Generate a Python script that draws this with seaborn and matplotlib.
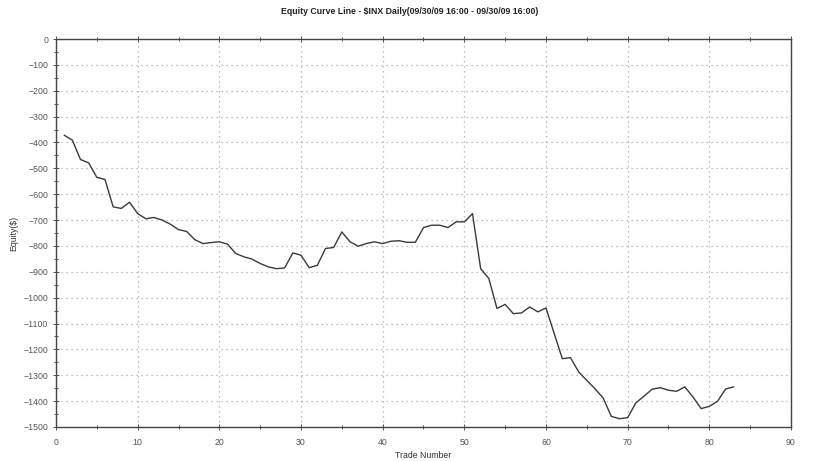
import pandas as pd
import numpy as np
import seaborn as sns
import matplotlib.pyplot as plt
from matplotlib.ticker import MultipleLocator

# Equity per trade
trade_number = list(range(1, 84))
equity = [
    -372, -391, -466, -479, -535, -543, -649, -655, -631, -675,
    -695, -690, -700, -716, -737, -744, -776, -791, -787, -784,
    -793, -829, -842, -851, -868, -881, -888, -885, -827, -836,
    -884, -875, -810, -806, -746, -784, -801, -791, -784, -791,
    -782, -780, -786, -786, -729, -720, -720, -729, -707, -707,
    -675, -888, -926, -1042, -1026, -1062, -1059, -1036, -1055, -1040,
    -1138, -1236, -1232, -1287, -1320, -1352, -1388, -1459, -1468, -1464,
    -1407, -1381, -1354, -1348, -1358, -1362, -1345, -1384, -1429, -1420,
    -1401, -1353, -1345,
]
title = "Equity Curve Line - $INX Daily(09/30/09 16:00 - 09/30/09 16:00)"

df = pd.DataFrame({"trade": trade_number, "equity": equity})

sns.set_style("white")
plt.rcParams["font.family"] = ["Liberation Sans Narrow", "Liberation Sans", "DejaVu Sans"]

fig = plt.figure(figsize=(8.2, 4.61), dpi=100)
ax = fig.add_axes([0.0683, 0.0738, 0.8963, 0.8416])

# curva equity
sns.lineplot(data=df, x="trade", y="equity", color="#3a3a3a", linewidth=1.0, ax=ax)

ax.set_xlim(0, 90)
ax.set_ylim(-1500, 0)
ax.xaxis.set_major_locator(MultipleLocator(10))
ax.xaxis.set_minor_locator(MultipleLocator(5))
ax.yaxis.set_major_locator(MultipleLocator(100))
ax.yaxis.set_minor_locator(MultipleLocator(50))

ax.grid(True, which="major", linestyle=(0, (1, 3)), color="#aaaaaa", linewidth=0.9)
ax.tick_params(which="both", direction="inout", length=4, width=0.7, color="#555555",
               labelsize=6.3, labelcolor="#555555", top=True, bottom=True, left=True, right=False)
ax.tick_params(which="minor", length=3)
ax.tick_params(axis="x", pad=6)

for side in ["left", "bottom", "right", "top"]:
    ax.spines[side].set_color("#444444")
    ax.spines[side].set_linewidth(1.0)

ax.set_xlabel("Trade Number", fontsize=6.3, color="#333333", labelpad=3)
ax.set_ylabel("Equity($)", fontsize=6.3, color="#333333", labelpad=4)
fig.text(0.5, 0.975, title, ha="center", va="center", fontsize=6.3, fontweight="bold", color="#222222")

plt.savefig("out.png", dpi=100)
